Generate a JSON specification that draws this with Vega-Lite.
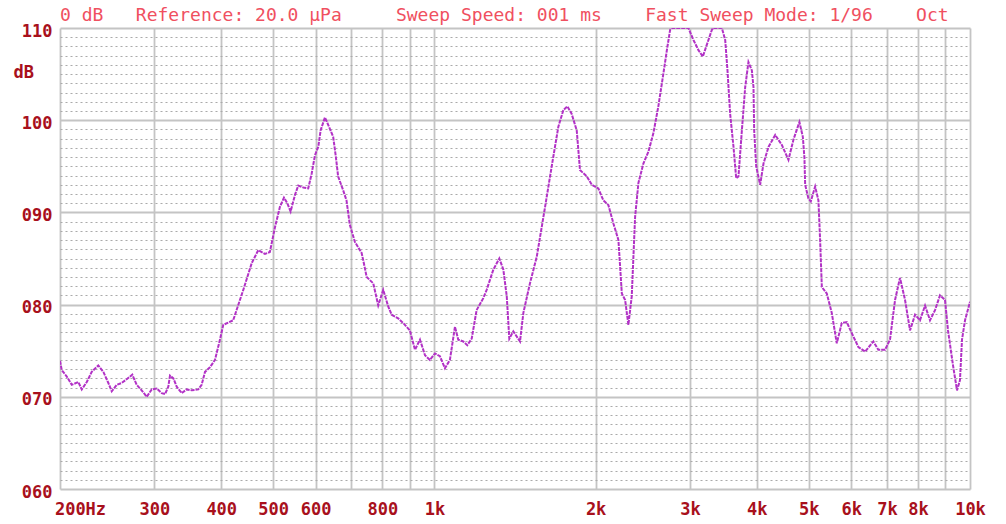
{
  "$schema": "https://vega.github.io/schema/vega-lite/v6.json",
  "width": 910,
  "height": 461,
  "autosize": "none",
  "padding": {"left": 60, "top": 28, "right": 36, "bottom": 35},
  "background": "white",
  "config": {"view": {"stroke": null}},
  "title": {
    "text": "0\u00a0dB\u00a0\u00a0\u00a0Reference:\u00a020.0\u00a0μPa\u00a0\u00a0\u00a0\u00a0\u00a0Sweep\u00a0Speed:\u00a0001\u00a0ms\u00a0\u00a0\u00a0\u00a0Fast\u00a0Sweep\u00a0Mode:\u00a01/96\u00a0\u00a0\u00a0\u00a0Oct",
    "anchor": "start",
    "frame": "group",
    "offset": -3,
    "font": "DejaVu Sans Mono",
    "fontSize": 18,
    "fontWeight": "normal",
    "color": "#f0505f"
  },
  "data": {
    "values": [
      {"f": 200, "db": 73.9}, {"f": 201.5, "db": 72.9}, {"f": 205.9, "db": 72.2}, {"f": 210.4, "db": 71.3},
      {"f": 216.4, "db": 71.6}, {"f": 219.6, "db": 70.8}, {"f": 224.4, "db": 71.6}, {"f": 229.2, "db": 72.7},
      {"f": 235.8, "db": 73.4}, {"f": 241, "db": 72.7}, {"f": 246.2, "db": 71.5}, {"f": 249.8, "db": 70.6},
      {"f": 255.2, "db": 71.3}, {"f": 260.7, "db": 71.5}, {"f": 266.4, "db": 71.9}, {"f": 272.9, "db": 72.4},
      {"f": 278.1, "db": 71.3}, {"f": 284.1, "db": 70.7}, {"f": 290.4, "db": 70.0}, {"f": 296.7, "db": 70.8},
      {"f": 303.1, "db": 70.9}, {"f": 309.7, "db": 70.4}, {"f": 314.2, "db": 70.3}, {"f": 318.6, "db": 71.1},
      {"f": 320.9, "db": 72.3}, {"f": 325.6, "db": 72.0}, {"f": 330.3, "db": 71.1}, {"f": 337.5, "db": 70.4},
      {"f": 344.8, "db": 70.8}, {"f": 352.3, "db": 70.7}, {"f": 362.4, "db": 70.8}, {"f": 367.7, "db": 71.3},
      {"f": 373, "db": 72.7}, {"f": 381, "db": 73.2}, {"f": 389.4, "db": 74.0}, {"f": 397.8, "db": 76.2},
      {"f": 403.5, "db": 77.8}, {"f": 421.1, "db": 78.3}, {"f": 439.8, "db": 81.6}, {"f": 456, "db": 84.5},
      {"f": 469, "db": 85.9}, {"f": 482.7, "db": 85.5}, {"f": 493, "db": 85.7}, {"f": 504, "db": 88.4},
      {"f": 514.8, "db": 90.6}, {"f": 523.8, "db": 91.6}, {"f": 531.3, "db": 91.0}, {"f": 539, "db": 90.1},
      {"f": 549.2, "db": 91.9}, {"f": 557, "db": 92.9}, {"f": 569.1, "db": 92.7}, {"f": 581.4, "db": 92.6},
      {"f": 590, "db": 94.2}, {"f": 598.5, "db": 96.2}, {"f": 607, "db": 97.1}, {"f": 613.2, "db": 98.9},
      {"f": 624.7, "db": 100.3}, {"f": 633.5, "db": 99.5}, {"f": 647.2, "db": 98.2}, {"f": 654.8, "db": 96.0},
      {"f": 661.2, "db": 93.9}, {"f": 675.6, "db": 92.4}, {"f": 685.4, "db": 91.3}, {"f": 695, "db": 88.7},
      {"f": 710.5, "db": 86.8}, {"f": 731.4, "db": 85.6}, {"f": 736.6, "db": 84.8}, {"f": 747.4, "db": 83.0},
      {"f": 769, "db": 82.3}, {"f": 785.6, "db": 79.9}, {"f": 802.5, "db": 81.6}, {"f": 820, "db": 79.8},
      {"f": 832.1, "db": 78.9}, {"f": 855.9, "db": 78.5}, {"f": 874.5, "db": 78.0}, {"f": 900, "db": 77.2},
      {"f": 920, "db": 75.1}, {"f": 940, "db": 76.2}, {"f": 960.5, "db": 74.5}, {"f": 981, "db": 74.0},
      {"f": 1002.5, "db": 74.7}, {"f": 1024, "db": 74.4}, {"f": 1046.5, "db": 73.1}, {"f": 1069, "db": 74.0},
      {"f": 1092.5, "db": 77.6}, {"f": 1108, "db": 76.2}, {"f": 1132, "db": 76.0}, {"f": 1152, "db": 75.6},
      {"f": 1174, "db": 76.3}, {"f": 1199, "db": 79.4}, {"f": 1234, "db": 80.7}, {"f": 1252, "db": 81.6},
      {"f": 1288.5, "db": 83.8}, {"f": 1322, "db": 85.0}, {"f": 1345, "db": 83.8}, {"f": 1365, "db": 80.9},
      {"f": 1380, "db": 76.3}, {"f": 1404, "db": 77.1}, {"f": 1445, "db": 76.0}, {"f": 1466, "db": 79.1},
      {"f": 1508, "db": 82.3}, {"f": 1553, "db": 85.2}, {"f": 1609.5, "db": 90.6}, {"f": 1656, "db": 95.0},
      {"f": 1704, "db": 99.3}, {"f": 1741, "db": 101.1}, {"f": 1771, "db": 101.5}, {"f": 1804, "db": 100.7},
      {"f": 1844, "db": 98.9}, {"f": 1870, "db": 94.6}, {"f": 1925.6, "db": 93.9}, {"f": 1967.5, "db": 93.0},
      {"f": 2023.6, "db": 92.6}, {"f": 2067.7, "db": 91.3}, {"f": 2112.7, "db": 90.8}, {"f": 2159, "db": 88.8},
      {"f": 2206, "db": 87.0}, {"f": 2238.5, "db": 81.2}, {"f": 2270.5, "db": 80.5}, {"f": 2302.5, "db": 77.8},
      {"f": 2336, "db": 80.9}, {"f": 2370, "db": 89.5}, {"f": 2404, "db": 93.2}, {"f": 2456, "db": 95.3},
      {"f": 2510, "db": 96.6}, {"f": 2564, "db": 98.6}, {"f": 2619, "db": 101.5}, {"f": 2677, "db": 105.1},
      {"f": 2717, "db": 107.6}, {"f": 2755, "db": 109.8}, {"f": 2776, "db": 110}, {"f": 2980.6, "db": 110},
      {"f": 3045.6, "db": 108.7}, {"f": 3111.6, "db": 107.6}, {"f": 3171, "db": 106.9}, {"f": 3226.5, "db": 108.2},
      {"f": 3296.5, "db": 109.8}, {"f": 3315, "db": 110}, {"f": 3441.5, "db": 110}, {"f": 3491, "db": 108.7},
      {"f": 3525.5, "db": 105.4}, {"f": 3566, "db": 100.7}, {"f": 3618, "db": 97.1}, {"f": 3660, "db": 93.7},
      {"f": 3696, "db": 93.9}, {"f": 3750.7, "db": 98.9}, {"f": 3804.5, "db": 103.6}, {"f": 3858, "db": 106.3},
      {"f": 3915, "db": 105.4}, {"f": 3942.4, "db": 103.6}, {"f": 3954, "db": 98.9}, {"f": 3988.6, "db": 95.0},
      {"f": 4057, "db": 93.0}, {"f": 4116, "db": 95.3}, {"f": 4205, "db": 97.1}, {"f": 4328.5, "db": 98.4},
      {"f": 4455, "db": 97.3}, {"f": 4582, "db": 95.7}, {"f": 4682, "db": 97.9}, {"f": 4803, "db": 99.8},
      {"f": 4874, "db": 98.2}, {"f": 4908, "db": 95.9}, {"f": 4923, "db": 93.0}, {"f": 4993, "db": 91.5},
      {"f": 5044, "db": 91.2}, {"f": 5139, "db": 92.8}, {"f": 5212, "db": 91.3}, {"f": 5250, "db": 87.0},
      {"f": 5289, "db": 81.9}, {"f": 5403, "db": 81.2}, {"f": 5520, "db": 79.1}, {"f": 5640, "db": 75.8},
      {"f": 5762.5, "db": 78.0}, {"f": 5887.5, "db": 78.1}, {"f": 6015.5, "db": 76.9}, {"f": 6188.5, "db": 75.4},
      {"f": 6369.5, "db": 74.9}, {"f": 6600, "db": 76.0}, {"f": 6743, "db": 75.1}, {"f": 6941, "db": 75.1},
      {"f": 7090, "db": 76.2}, {"f": 7245.5, "db": 80.5}, {"f": 7401, "db": 82.9}, {"f": 7564, "db": 80.5},
      {"f": 7727, "db": 77.2}, {"f": 7896.5, "db": 78.9}, {"f": 8066, "db": 78.3}, {"f": 8243, "db": 79.9},
      {"f": 8420, "db": 78.3}, {"f": 8604.5, "db": 79.4}, {"f": 8789, "db": 81.0}, {"f": 8982, "db": 80.5},
      {"f": 9098, "db": 77.2}, {"f": 9296, "db": 73.4}, {"f": 9457, "db": 70.7}, {"f": 9578, "db": 71.8},
      {"f": 9662, "db": 76.2}, {"f": 9789, "db": 78.3}, {"f": 10000, "db": 80.3}
    ]
  },
  "mark": {"type": "line", "color": "#b232c6", "strokeWidth": 2, "strokeDash": [4, 1], "clip": true, "interpolate": "linear"},
  "encoding": {
    "x": {
      "field": "f",
      "type": "quantitative",
      "scale": {"type": "log", "domain": [200, 10000], "nice": false},
      "axis": {
        "title": null,
        "values": [200, 300, 400, 500, 600, 700, 800, 900, 1000, 2000, 3000, 4000, 5000, 6000, 7000, 8000, 9000, 10000],
        "labelExpr": "datum.value == 200 ? '200Hz' : (datum.value == 700 || datum.value == 900 || datum.value == 9000) ? '' : datum.value >= 1000 ? (datum.value / 1000) + 'k' : '' + datum.value",
        "domain": false,
        "ticks": false,
        "grid": true,
        "gridColor": "#c4c4c4",
        "gridWidth": 1.8,
        "labelFont": "DejaVu Sans Mono",
        "labelFontSize": 17,
        "labelFontWeight": "bold",
        "labelColor": "#a8101c",
        "labelPadding": 12,
        "labelFlush": false,
        "labelOverlap": false,
        "labelBound": false,
        "labelOffset": {"condition": {"test": "datum.value == 200", "value": 20}, "value": 0}
      }
    },
    "y": {
      "field": "db",
      "type": "quantitative",
      "scale": {"domain": [60, 110], "nice": false, "zero": false},
      "axis": {
        "title": "dB",
        "titleAngle": 0,
        "titleAlign": "left",
        "titleBaseline": "middle",
        "titleX": -47,
        "titleY": 44,
        "titleFont": "DejaVu Sans Mono",
        "titleFontSize": 17,
        "titleFontWeight": "bold",
        "titleColor": "#a8101c",
        "values": [60,61,62,63,64,65,66,67,68,69,70,71,72,73,74,75,76,77,78,79,80,81,82,83,84,85,86,87,88,89,90,91,92,93,94,95,96,97,98,99,100,101,102,103,104,105,106,107,108,109,110],
        "labelExpr": "datum.value % 10 === 0 ? format(datum.value, '03d') : ''",
        "domain": false,
        "ticks": false,
        "grid": true,
        "gridColor": {"condition": {"test": "datum.value % 10 === 0", "value": "#c4c4c4"}, "value": "#aaaaaa"},
        "gridWidth": {"condition": {"test": "datum.value % 10 === 0", "value": 1.8}, "value": 1.1},
        "gridDash": {"condition": {"test": "datum.value % 10 === 0", "value": []}, "value": [2, 3]},
        "labelFont": "DejaVu Sans Mono",
        "labelFontSize": 17,
        "labelFontWeight": "bold",
        "labelColor": "#a8101c",
        "labelPadding": 8,
        "labelBaseline": "middle",
        "labelOffset": 3,
        "labelFlush": false,
        "labelOverlap": false,
        "labelBound": false
      }
    }
  }
}
